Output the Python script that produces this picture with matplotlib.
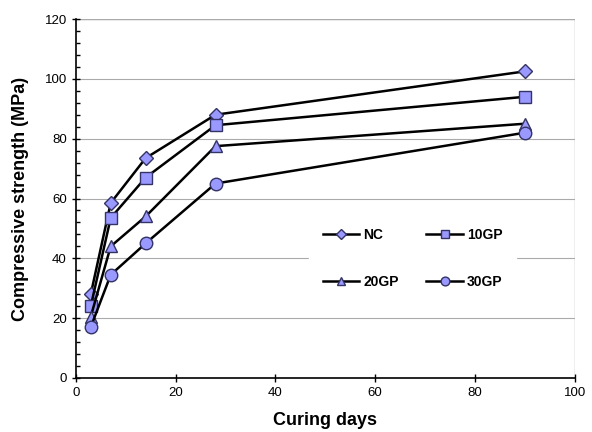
import matplotlib.pyplot as plt
from matplotlib.ticker import MultipleLocator

plt.rcParams['font.family'] = ['Liberation Sans', 'DejaVu Sans']

# curing age (days) and compressive strength (MPa)
days = [3, 7, 14, 28, 90]
nc = [28, 58.5, 73.5, 88, 102.5]
gp10 = [24, 53.5, 67, 84.5, 94]
gp20 = [20.5, 44, 54, 77.5, 85]
gp30 = [17, 34.5, 45, 65, 82]

labels = ['NC', '10GP', '20GP', '30GP']
markers = ['D', 's', '^', 'o']
sizes = [7, 9, 9, 9]

fig = plt.figure(figsize=(5.92, 4.32), dpi=100)
ax = fig.add_axes([0.128, 0.125, 0.843, 0.831])

lines = []
for vals, lab, mk, ms in zip([nc, gp10, gp20, gp30], labels, markers, sizes):
    ln, = ax.plot(days, vals, color='black', lw=1.8, marker=mk, markersize=ms,
                  markerfacecolor='#9999FF', markeredgecolor='#333366',
                  markeredgewidth=1.0, label=lab)
    lines.append(ln)

ax.set_xlim(0, 100)
ax.set_ylim(0, 120)
ax.xaxis.set_major_locator(MultipleLocator(20))
ax.yaxis.set_major_locator(MultipleLocator(20))
ax.yaxis.set_minor_locator(MultipleLocator(4))
ax.grid(axis='y', which='major', color='#aaaaaa', lw=0.8)
ax.set_axisbelow(True)

ax.tick_params(axis='both', which='major', direction='inout', length=6,
               width=1, labelsize=9.5, color='black')
ax.tick_params(axis='y', which='minor', direction='in', length=3, width=1)

for s in ['top', 'right']:
    ax.spines[s].set_visible(False)
ax.spines['left'].set_linewidth(1.2)
ax.spines['bottom'].set_linewidth(1.2)
ax.axvline(100, color='#aaaaaa', lw=1)
ax.axhline(120, color='#aaaaaa', lw=1, zorder=0)

ax.set_xlabel('Curing days', fontsize=13, fontweight='bold', labelpad=9)
ax.set_ylabel('Compressive strength (MPa)', fontsize=13, fontweight='bold', labelpad=11)

# legend rows: NC, 10GP / 20GP, 30GP
order = [0, 2, 1, 3]
leg = ax.legend([lines[i] for i in order], [labels[i] for i in order],
                ncol=2, loc='center', bbox_to_anchor=(0.675, 0.333),
                frameon=True, fancybox=False, edgecolor='white',
                facecolor='white', framealpha=1,
                prop={'weight': 'bold', 'size': 10},
                handlelength=2.6, handletextpad=0.3, columnspacing=2.0,
                labelspacing=2.4, borderpad=1.0, markerscale=0.7)

fig.savefig('out.png', dpi=100)
